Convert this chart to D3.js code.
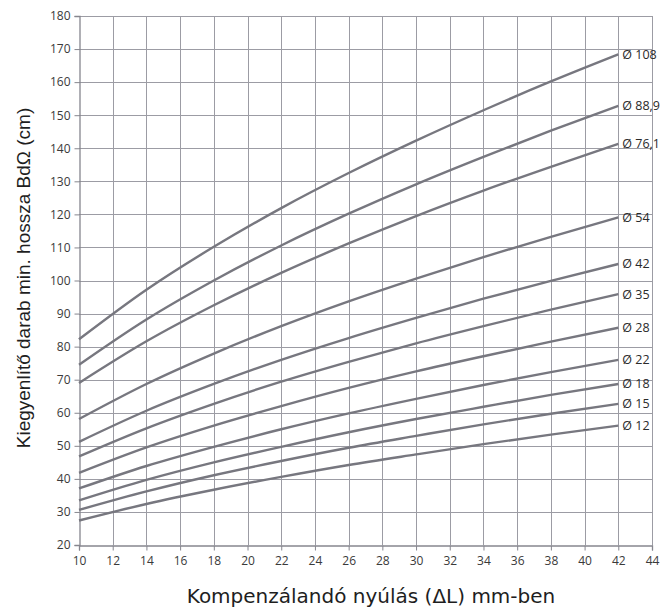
<!DOCTYPE html>
<html>
<head>
<meta charset="utf-8">
<script src="https://cdn.jsdelivr.net/npm/d3@7"></script>
<style>
  body { margin: 0; background: #fff; }
  svg { display: block; }
</style>
</head>
<body>
<svg id="chart"></svg>
<script>
// ---------------------------------------------------------------- //
// Data

var xValues = [10, 14, 18, 22, 26, 30, 34, 38, 42];

var d108 = [82.2, 97.2, 110.2, 121.9, 132.5, 142.3, 151.5, 160.2, 168.4];
var d889 = [74.5, 88.2, 100.0, 110.6, 120.2, 129.1, 137.4, 145.3, 152.8];
var d761 = [69.0, 81.6, 92.5, 102.3, 111.2, 119.5, 127.2, 134.4, 141.3];
var d54  = [58.1, 68.7, 77.9, 86.2, 93.7, 100.6, 107.1, 113.2, 119.1];
var d42  = [51.2, 60.6, 68.7, 76.0, 82.6, 88.7, 94.5, 99.9, 105.0];
var d35  = [46.8, 55.3, 62.7, 69.4, 75.4, 81.0, 86.2, 91.2, 95.9];
var d28  = [41.8, 49.5, 56.1, 62.0, 67.5, 72.5, 77.1, 81.5, 85.7];
var d22  = [37.1, 43.9, 49.7, 55.0, 59.8, 64.2, 68.4, 72.3, 76.0];
var d18  = [33.5, 39.7, 45.0, 49.7, 54.1, 58.1, 61.8, 65.4, 68.7];
var d15  = [30.6, 36.2, 41.1, 45.4, 49.4, 53.0, 56.5, 59.7, 62.7];
var d12  = [27.4, 32.4, 36.7, 40.6, 44.2, 47.4, 50.5, 53.4, 56.1];

var seriesNames = ['Ø 108', 'Ø 88,9', 'Ø 76,1', 'Ø 54', 'Ø 42', 'Ø 35', 'Ø 28', 'Ø 22', 'Ø 18', 'Ø 15', 'Ø 12'];
var seriesValues = [d108, d889, d761, d54, d42, d35, d28, d22, d18, d15, d12];

var xTicks = d3.range(10, 45, 2);
var yTicks = d3.range(20, 181, 10);

// ---------------------------------------------------------------- //
// Setup

var width = 663, height = 614;
var margin = { top: 16, left: 79, right: 11, bottom: 69 };

var svg = d3.select('#chart').attr('width', width).attr('height', height);

var x = d3.scaleLinear().domain([10, 44]).range([margin.left, width - margin.right]);
var y = d3.scaleLinear().domain([20, 180]).range([height - margin.bottom, margin.top]);

var gridColor = '#9c9ca4', axisColor = '#86868e', lineColor = '#77777f';

// grid
svg.append('g').selectAll('line').data(xTicks.slice(1)).enter().append('line')
  .attr('x1', (d) => { return Math.round(x(d)) + 0.5 }).attr('x2', (d) => { return Math.round(x(d)) + 0.5 })
  .attr('y1', y(180)).attr('y2', y(20))
  .attr('stroke', gridColor).attr('stroke-width', 1);

svg.append('g').selectAll('line').data(yTicks.slice(1)).enter().append('line')
  .attr('x1', x(10)).attr('x2', x(44))
  .attr('y1', (d) => { return Math.round(y(d)) + 0.5 }).attr('y2', (d) => { return Math.round(y(d)) + 0.5 })
  .attr('stroke', gridColor).attr('stroke-width', 1);

// axes
var xAxis = d3.axisBottom(x).tickValues(xTicks).tickSize(5).tickPadding(6);
var yAxis = d3.axisLeft(y).tickValues(yTicks).tickSize(5).tickPadding(4);

var gx = svg.append('g').attr('transform', 'translate(0,' + (Math.round(y(20)) + 0.5) + ')').call(xAxis);
var gy = svg.append('g').attr('transform', 'translate(' + (Math.round(x(10)) + 0.5) + ',0)').call(yAxis);

[gx, gy].forEach((g) => {
  g.select('.domain').attr('stroke', axisColor).attr('stroke-width', 1.3);
  g.selectAll('.tick line').attr('stroke', axisColor);
  g.selectAll('.tick text').attr('fill', '#3a3a3a')
    .style('font-family', '"Open Sans", sans-serif').style('font-size', '12px');
});

// curves
var line_gen = d3.line().x((d) => { return x(d.x) }).y((d) => { return y(d.y) }).curve(d3.curveMonotoneX);

seriesValues.forEach((vals, i) => {
  var pts = vals.map((v, j) => { return { x: xValues[j], y: v } });
  svg.append('path').datum(pts)
    .attr('d', line_gen)
    .attr('fill', 'none')
    .attr('stroke', lineColor)
    .attr('stroke-width', 2.4);

  svg.append('text')
    .attr('x', x(42) + 4)
    .attr('y', y(vals[vals.length - 1]) + 4.5)
    .attr('fill', '#2a2a2a')
    .style('font-family', '"Open Sans", sans-serif')
    .style('font-size', '12.5px')
    .text(seriesNames[i]);
});

// axis titles
svg.append('text')
  .attr('transform', 'translate(30,278) rotate(-90)')
  .attr('text-anchor', 'middle')
  .attr('fill', '#1e1e1e')
  .style('font-family', '"Liberation Sans", Arial, sans-serif')
  .style('font-size', '19px')
  .text('Kiegyenlítő darab min. hossza BdΩ (cm)');

svg.append('text')
  .attr('x', 371)
  .attr('y', 603)
  .attr('text-anchor', 'middle')
  .attr('fill', '#1e1e1e')
  .style('font-family', '"DejaVu Sans", sans-serif')
  .style('font-size', '20px')
  .text('Kompenzálandó nyúlás (ΔL) mm-ben');
</script>
</body>
</html>
